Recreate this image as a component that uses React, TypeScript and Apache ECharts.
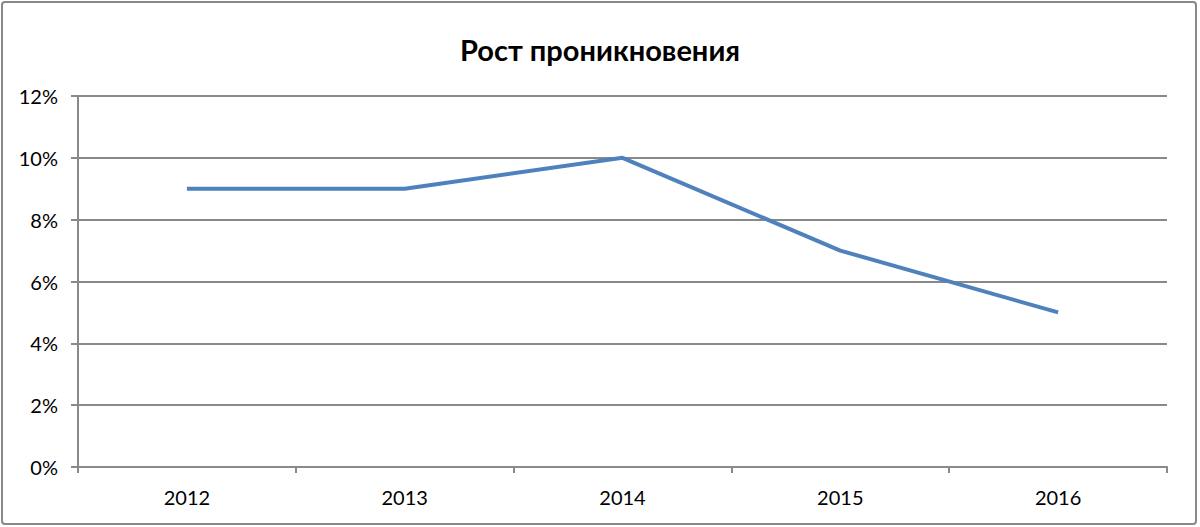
import React, { useEffect, useRef } from "react";
import * as echarts from "echarts";

const categories = ["2012", "2013", "2014", "2015", "2016"];
const values = [9, 9, 10, 7, 5];
const titleText = "Рост проникновения";

export default function App() {
  const ref = useRef<HTMLDivElement>(null);
  useEffect(() => {
    if (!ref.current) return;
    const chart = echarts.init(ref.current, undefined, { renderer: "svg" });
    const gray = "#898989";
    chart.setOption({
      animation: false,
      backgroundColor: "#ffffff",
      textStyle: { fontFamily: "Lato" },
      title: {
        text: titleText,
        left: "center",
        top: 30,
        textStyle: { fontFamily: "Lato", fontWeight: "bold", fontSize: 29, color: "#000" },
      },
      graphic: [
        {
          type: "rect",
          shape: { x: 2, y: 2, width: 1194, height: 522, r: 3 },
          style: { fill: "none", stroke: gray, lineWidth: 2 },
          silent: true,
        },
      ],
      grid: { left: 78, right: 33, top: 96, bottom: 60 },
      xAxis: {
        type: "category",
        data: categories,
        boundaryGap: true,
        axisLine: { show: true, lineStyle: { color: gray, width: 2 } },
        axisTick: { show: true, alignWithLabel: false, interval: 0, length: 6, lineStyle: { color: gray, width: 2 } },
        axisLabel: { color: "#000", fontSize: 20, margin: 20, fontFamily: "Lato" },
      },
      yAxis: {
        type: "value",
        min: 0,
        max: 12,
        interval: 2,
        axisLine: { show: true, lineStyle: { color: gray, width: 2 } },
        axisTick: { show: true, length: 7, lineStyle: { color: gray, width: 2 } },
        axisLabel: { color: "#000", fontSize: 20, margin: 20, formatter: "{value}%", fontFamily: "Lato" },
        splitLine: { show: true, lineStyle: { color: gray, width: 2 } },
      },
      series: [
        {
          type: "line",
          data: values,
          symbol: "none",
          lineStyle: { color: "#4f81bd", width: 4 },
        },
      ],
    });
    return () => chart.dispose();
  }, []);
  return (
    <div
      ref={ref}
      style={{ position: "fixed", left: 0, top: 0, width: 1200, height: 527 }}
    />
  );
}
